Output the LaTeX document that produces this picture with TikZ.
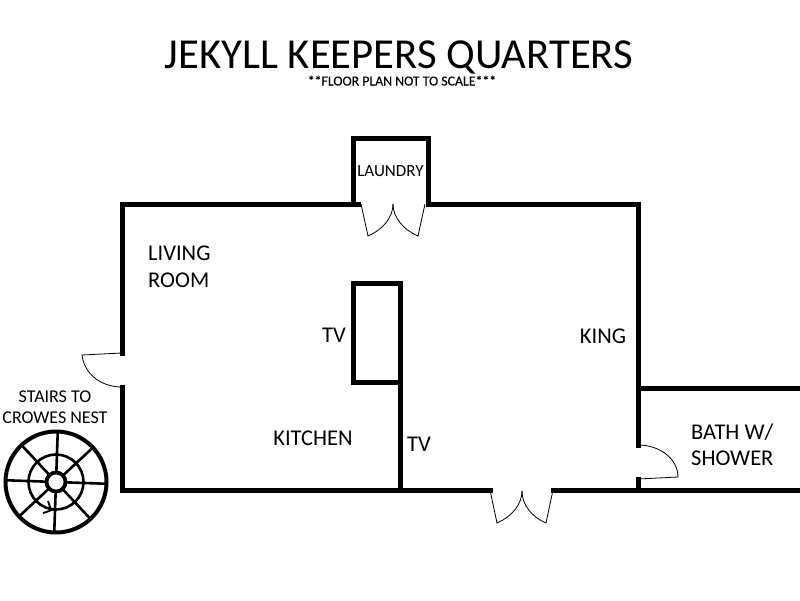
\documentclass[tikz,border=0pt]{standalone}
\usepackage{fontspec}
\setmainfont{Carlito}
\tikzset{
  wall/.style={line width=5pt,line cap=rect,line join=miter,black},
  door/.style={line width=0.8pt,black},
  stair/.style={line width=2.6pt,black},
  lbl/.style={inner sep=0pt,align=center,font=\fontsize{22.5}{26.5}\selectfont},
  lblsm/.style={inner sep=0pt,align=center,font=\fontsize{18}{21}\selectfont}
}
\begin{document}
\begin{tikzpicture}[x=1pt,y=-1pt]
\useasboundingbox (0,0) rectangle (800,600);
\fill[white] (0,0) rectangle (800,600);
% title
\node[inner sep=0pt,anchor=base,font=\fontsize{42.7}{46}\selectfont] (title) at (399,68) {JEKYLL KEEPERS QUARTERS};
\node[inner sep=0pt,anchor=base,font=\fontsize{13.8}{15}\selectfont] (sub) at (402,85.5) {\addfontfeature{FakeBold=0.2}**FLOOR PLAN NOT TO SCALE***};
% walls
\draw[wall] (358,204) -- (122,204) -- (122,353);
\draw[wall] (122,387) -- (122,490) -- (490,490);
\draw[wall] (553,490) -- (800,490);
\draw[wall] (428,204) -- (638,204) -- (638,445);
\draw[wall] (638,479) -- (638,490);
\draw[wall] (638,388) -- (800,388);
\draw[wall] (353,204) -- (353,138) -- (428,138) -- (428,204);
\draw[wall] (400,490) -- (400,283) -- (353,283) -- (353,382) -- (400,382);
% doors
\draw[door] (361,204) -- (368,236) .. controls (382,230) and (393,218) .. (393,204);
\draw[door] (425,204) -- (418,236) .. controls (404,230) and (393,218) .. (393,204);
\draw[door] (490,490) -- (497,523) .. controls (511,517) and (522,505) .. (522,491);
\draw[door] (553,490) -- (546,523) .. controls (532,517) and (522,505) .. (522,491);
\draw[door] (638,445) .. controls (660,445) and (678,459) .. (678,477) -- (638,479);
\draw[door] (122,353) -- (82,355) .. controls (84,373) and (100,387) .. (122,387);
% stairs
\draw[line width=4pt] (56,482) circle (50.5);
\draw[stair] (56,482) circle (27.5);
\foreach \a in {2,47,92,137,182,227,272,317}{
  \draw[stair] (56,482) ++(\a:10) -- ++(\a:40);
}
\draw[line width=3.8pt,fill=white] (56,482) circle (9.5);
\draw[line width=1.8pt] (56,508) .. controls (52,510) and (47,512) .. (43,513);
\draw[line width=1.8pt] (48,501) -- (51,510);
% labels
\node[inner sep=0pt,font=\fontsize{17}{20}\selectfont] (laundry) at (390.5,171) {LAUNDRY};
\node[lbl,align=left,anchor=west] (living) at (148,267) {LIVING\\ROOM};
\node[lbl] (tva) at (334,335) {TV};
\node[lbl] (king) at (603,336) {KING};
\node[lbl] (tvb) at (419,444) {TV};
\node[lbl] (kitchen) at (313,438) {KITCHEN};
\node[lbl,align=left,anchor=west] (bath) at (691,445) {BATH W/\\SHOWER};
\node[lblsm] (stairs) at (55,407) {STAIRS TO\\CROWES NEST};
\end{tikzpicture}
\end{document}
